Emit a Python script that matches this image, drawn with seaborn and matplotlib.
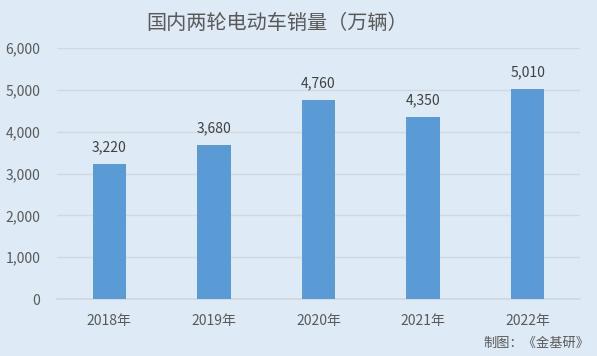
import pandas as pd
import matplotlib
matplotlib.use("Agg")
import matplotlib.pyplot as plt
import seaborn as sns

# Data
years = ["2018年", "2019年", "2020年", "2021年", "2022年"]
sales = [3220, 3680, 4760, 4350, 5010]
yticks = [0, 1000, 2000, 3000, 4000, 5000, 6000]

df = pd.DataFrame({"year": years, "sales": sales})

sns.set_theme(style="white")
plt.rcParams['font.family'] = ['Noto Sans CJK SC', 'DejaVu Sans']

bg = "#DEEAF6"
bar_color = "#5B9BD5"
text_color = "#595959"

fig = plt.figure(figsize=(5.97, 3.56), dpi=100, facecolor=bg)
ax = fig.add_axes([0.0955, 0.160, 0.876, 0.705])
ax.set_facecolor(bg)

sns.barplot(data=df, x="year", y="sales", color=bar_color, width=0.32,
            saturation=1, linewidth=0, ax=ax, zorder=3)

ax.set_ylim(0, 6000)
ax.set_yticks(yticks)
ax.set_yticklabels([f"{v:,}" for v in yticks])
ax.yaxis.grid(True, color="#D3D8DE", linewidth=1, zorder=0)
ax.set_axisbelow(True)
for s in ["top", "right", "left"]:
    ax.spines[s].set_visible(False)
ax.spines["bottom"].set_color("#D3D8DE")
ax.tick_params(axis="both", length=0, labelsize=10, colors=text_color)
ax.tick_params(axis="y", pad=12)
ax.tick_params(axis="x", pad=11)
ax.set_xlabel("")
ax.set_ylabel("")

for i, v in enumerate(sales):
    ax.text(i, v + 240, f"{v:,}", ha="center", va="bottom", fontsize=10, color="#404040")

fig.text(0.464, 0.935, "国内两轮电动车销量（万辆）", ha="center", va="center",
         fontsize=14.5, color=text_color)
fig.text(0.988, 0.035, "制图：《金基研》", ha="right", va="center",
         fontsize=9.5, color=text_color)

fig.savefig("out.png", dpi=100, facecolor=bg)
